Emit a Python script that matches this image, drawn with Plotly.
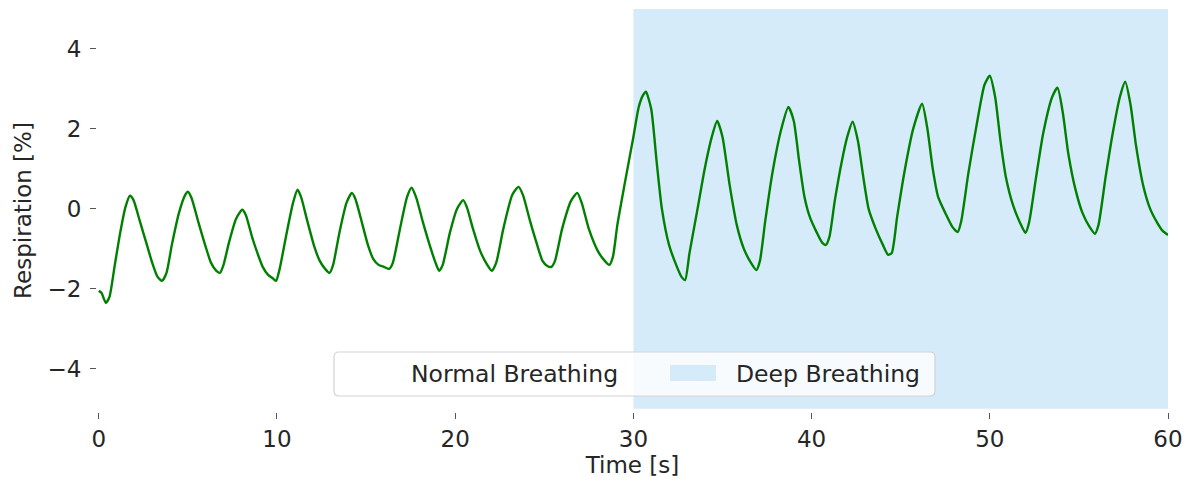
import plotly.graph_objects as go

# ---- data ----
time_s = [
    0.0, 0.15, 0.4, 0.6, 0.9, 1.2, 1.5, 1.75, 1.95, 2.3, 2.7, 3.0, 3.3, 3.55, 3.8,
    4.1, 4.5, 4.85, 5.0, 5.2, 5.6, 6.0, 6.3, 6.6, 6.8, 7.0, 7.3, 7.7, 8.05, 8.25,
    8.6, 8.9, 9.2, 9.5, 9.8, 9.95, 10.15, 10.5, 10.9, 11.15, 11.35, 11.7, 12.1, 12.4, 12.7,
    12.95, 13.15, 13.5, 13.9, 14.2, 14.4, 14.8, 15.1, 15.4, 15.7, 16.0, 16.3, 16.5, 16.9, 17.3,
    17.55, 17.8, 18.2, 18.6, 18.9, 19.1, 19.3, 19.7, 20.1, 20.45, 20.65, 21.0, 21.4, 21.8, 22.05,
    22.3, 22.7, 23.2, 23.55, 23.8, 24.2, 24.6, 24.9, 25.15, 25.4, 25.6, 26.0, 26.5, 26.85, 27.1,
    27.5, 28.0, 28.3, 28.65, 28.85, 29.1, 29.5, 30.0, 30.3, 30.55, 30.7,
    31.0, 31.3, 31.6, 32.0, 32.4, 32.7, 32.9, 33.15, 33.6, 34.0, 34.4, 34.7,
    35.0, 35.4, 35.8, 36.2, 36.6, 36.9, 37.1, 37.4, 37.8, 38.3, 38.7,
    39.0, 39.3, 39.6, 39.9, 40.3, 40.6, 40.8, 41.0, 41.3, 41.7, 42.0, 42.3,
    42.6, 42.9, 43.2, 43.6, 44.0, 44.3, 44.5, 44.8, 45.2, 45.7, 46.2,
    46.5, 46.8, 47.1, 47.5, 47.9, 48.2, 48.4, 48.8, 49.3, 49.7, 50.0,
    50.3, 50.6, 50.9, 51.3, 51.7, 52.0, 52.2, 52.6, 53.0, 53.5, 53.8,
    54.1, 54.4, 54.8, 55.2, 55.6, 55.9, 56.1, 56.5, 56.9, 57.3, 57.6,
    57.9, 58.2, 58.6, 59.0, 59.4, 59.7, 60.0,
]
respiration_pct = [
    -2.05, -2.1, -2.35, -2.2, -1.4, -0.6, 0.05, 0.33, 0.22, -0.3, -0.9, -1.35, -1.7, -1.8, -1.6,
    -0.9, -0.1, 0.35, 0.43, 0.28, -0.35, -0.95, -1.35, -1.55, -1.6, -1.4, -0.85, -0.25, -0.02, -0.15,
    -0.7, -1.1, -1.45, -1.65, -1.75, -1.8, -1.5, -0.7, 0.15, 0.48, 0.3, -0.3, -0.95, -1.3, -1.5,
    -1.6, -1.4, -0.6, 0.15, 0.4, 0.25, -0.4, -0.9, -1.25, -1.4, -1.45, -1.5, -1.35, -0.5, 0.3,
    0.53, 0.3, -0.35, -0.95, -1.35, -1.55, -1.4, -0.6, 0.0, 0.22, 0.05, -0.5, -1.05, -1.4, -1.55,
    -1.35, -0.5, 0.35, 0.55, 0.35, -0.3, -0.9, -1.3, -1.42, -1.45, -1.3, -0.5, 0.2, 0.4, 0.15,
    -0.5, -1.05, -1.25, -1.4, -1.2, -0.4, 0.6, 1.8, 2.55, 2.85, 2.93,
    2.5, 1.2, 0.0, -0.9, -1.4, -1.7, -1.78, -1.1, 0.0, 1.0, 1.8, 2.2,
    1.8, 0.6, -0.4, -1.0, -1.35, -1.53, -1.3, -0.3, 0.9, 2.0, 2.55,
    2.2, 1.2, 0.3, -0.2, -0.6, -0.85, -0.9, -0.7, 0.2, 1.2, 1.8, 2.18,
    1.7, 0.8, 0.0, -0.5, -0.9, -1.15, -1.1, -0.2, 0.9, 2.0, 2.63,
    2.0, 1.0, 0.3, -0.1, -0.45, -0.58, -0.3, 0.9, 2.2, 3.1, 3.33,
    2.8, 1.7, 0.8, 0.1, -0.35, -0.6, -0.35, 0.8, 1.9, 2.8, 3.03,
    2.4, 1.4, 0.5, -0.1, -0.45, -0.62, -0.4, 0.8, 1.9, 2.8, 3.18,
    2.6, 1.6, 0.6, 0.0, -0.35, -0.55, -0.65,
]

phase_names = ["Normal Breathing", "Deep Breathing"]
phase_start = [0, 30]
phase_end = [30, 60]

x_ticks = [0, 10, 20, 30, 40, 50, 60]
y_ticks = [-4, -2, 0, 2, 4]

# ---- styling ----
Y_LO, Y_HI = -5, 5
SHADE = "rgb(214,235,249)"
phase_fill = ["rgba(255,255,255,0)", SHADE]
W, H = 1186, 481
ML, MR, MT, MB = 97, 18, 9, 69
PW, PH = W - ML - MR, H - MT - MB


def px_to_paper(px, py):
    return (px - ML) / PW, (H - MB - py) / PH


font = dict(family="DejaVu Sans", size=23, color="#262626")
legend_font = dict(family="DejaVu Sans", size=23.5, color="#262626")

fig = go.Figure()

# background phase spans
for name, s, e, col in zip(phase_names, phase_start, phase_end, phase_fill):
    fig.add_trace(go.Scatter(
        x=[s, e, e, s, s], y=[Y_LO, Y_LO, Y_HI, Y_HI, Y_LO],
        mode="lines", fill="toself", fillcolor=col,
        line=dict(width=0, color=col), name=name, hoverinfo="skip",
        showlegend=False,
    ))

# legend entries for the phases (icons drawn as shapes below)
for name in phase_names:
    fig.add_trace(go.Scatter(
        x=[None], y=[None], mode="lines", name=name,
        line=dict(color="rgba(0,0,0,0)", width=1),
    ))

fig.add_trace(go.Scatter(
    x=time_s, y=respiration_pct, mode="lines",
    line=dict(color="#008000", width=2.4, shape="spline", smoothing=0.6),
    showlegend=False, name="Respiration",
))

# legend frame (rounded) and patch
bx0, by0 = px_to_paper(334, 396)
bx1, by1 = px_to_paper(935, 352)
rx, ry = 5 / PW, 5 / PH
frame_path = (
    f"M{bx0+rx},{by0} L{bx1-rx},{by0} Q{bx1},{by0} {bx1},{by0+ry} "
    f"L{bx1},{by1-ry} Q{bx1},{by1} {bx1-rx},{by1} "
    f"L{bx0+rx},{by1} Q{bx0},{by1} {bx0},{by1-ry} "
    f"L{bx0},{by0+ry} Q{bx0},{by0} {bx0+rx},{by0} Z"
)
px0, py0 = px_to_paper(670, 381)
px1, py1 = px_to_paper(716, 365)

shapes = [
    dict(type="path", xref="paper", yref="paper", path=frame_path, layer="above",
         fillcolor="rgba(255,255,255,0.8)", line=dict(color="#d3d3d3", width=1.2)),
    dict(type="rect", xref="paper", yref="paper", x0=px0, x1=px1, y0=py0, y1=py1,
         layer="above", fillcolor=SHADE, line=dict(width=0)),
]

lx, _ = px_to_paper(335, 0)
_, ly = px_to_paper(0, 373)

fig.update_layout(
    width=W, height=H,
    margin=dict(l=ML, r=MR, t=MT, b=MB),
    paper_bgcolor="white", plot_bgcolor="white",
    font=font,
    showlegend=True,
    shapes=shapes,
    legend=dict(
        orientation="h", x=lx, xanchor="left", y=ly, yanchor="middle",
        bgcolor="rgba(0,0,0,0)", borderwidth=0,
        font=legend_font, entrywidth=244, itemwidth=66,
    ),
    xaxis=dict(
        range=[-0.1, 60], tickvals=x_ticks, showgrid=False, zeroline=False,
        showline=False, ticks="outside", ticklen=6, tickwidth=1.3, tickcolor="#555555",
        title=dict(text="Time [s]", font=font, standoff=6),
        tickfont=font, automargin=False,
    ),
    yaxis=dict(
        range=[-5.08, 5], tickvals=y_ticks, showgrid=False, zeroline=False,
        showline=False, ticks="outside", ticklen=6, tickwidth=1.3, tickcolor="#555555",
        title=dict(text="Respiration [%]", font=font, standoff=9),
        tickfont=font, ticklabelstandoff=4, automargin=False,
    ),
)

fig.write_html("out.html")
